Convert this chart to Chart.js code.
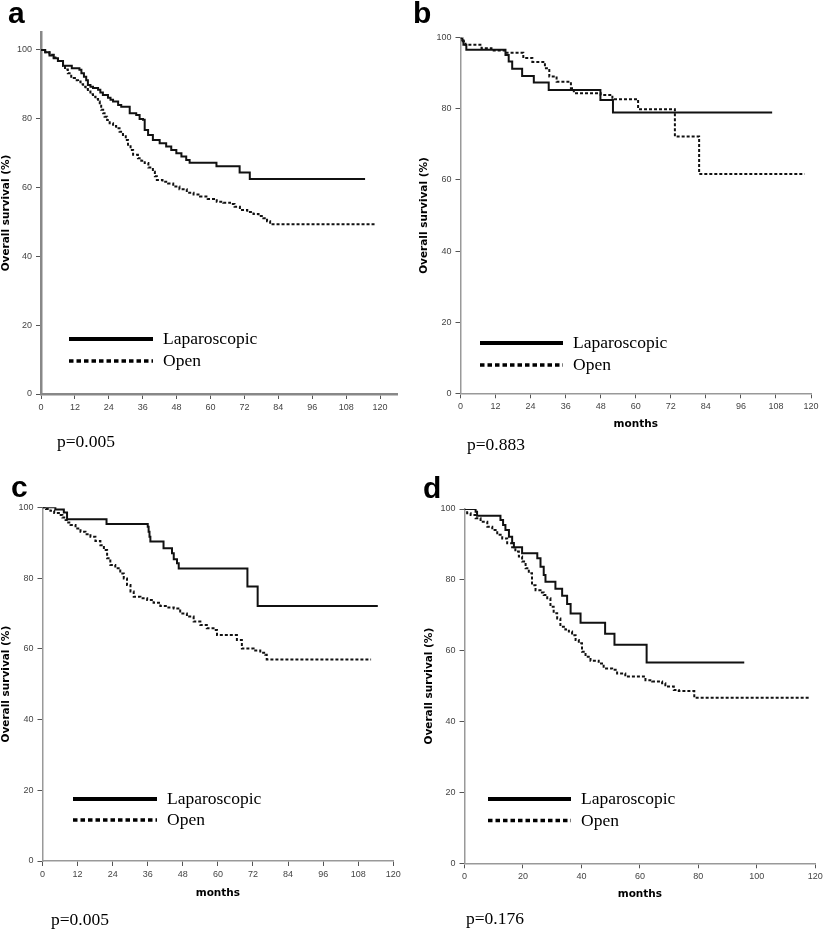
<!DOCTYPE html>
<html><head><meta charset="utf-8">
<script src="https://cdn.jsdelivr.net/npm/chart.js@4.4.1/dist/chart.umd.min.js"></script>
<style>
html,body{margin:0;padding:0;background:#fff;overflow:hidden;width:823px;height:929px;}
canvas{position:absolute;display:block;}
</style></head><body>
<canvas id="pa" width="412" height="465" style="left:0;top:0"></canvas>
<canvas id="pb" width="411" height="465" style="left:412px;top:0"></canvas>
<canvas id="pc" width="412" height="464" style="left:0;top:465px"></canvas>
<canvas id="pd" width="411" height="464" style="left:412px;top:465px"></canvas>
<script>
// ---- data ----
const seriesNames = ['Laparoscopic', 'Open'];
const panelLetters = ['a', 'b', 'c', 'd'];
const pValues = ['p=0.005', 'p=0.883', 'p=0.005', 'p=0.176'];
const yTitle = 'Overall survival (%)';
const xTitle = 'months';
const survivalTicks = [0, 20, 40, 60, 80, 100];
const monthTicks12 = [0, 12, 24, 36, 48, 60, 72, 84, 96, 108, 120];
const monthTicks20 = [0, 20, 40, 60, 80, 100, 120];

// panel a
const aLapT = [0,1.5,3,4.5,6,7.8,10.9,13.6,14.3,15.2,16,16.6,17.5,18.4,20.2,21,21.9,23.7,24.6,25.5,27.3,28.4,31.4,33.7,34.9,36.1,36.7,37.9,39.6,42,44.3,46.1,47.9,49.7,51.4,52.6,62.1,70.3,73.9,114.7];
const aLapS = [100,99.3,98.4,97.6,96.8,95.4,94.7,94.2,93.2,92.2,91.2,89.8,89.3,88.9,88.4,87.6,86.9,86.1,85.5,85.0,84.0,83.5,81.6,81.1,79.9,79.7,76.7,75.3,73.8,72.9,71.9,70.9,70.0,69.0,68.0,67.2,66.2,64.4,62.5,62.5];
const aOpenT = [0,1.5,3,4.5,6,7.8,8.5,9.5,10.7,12,13.1,14,14.9,15.8,16.6,17.5,18.4,19.3,20.2,20.8,21.3,22,22.5,23.4,24.3,25.5,26.6,27.8,29,30,30.8,31.7,32.6,34.3,35.5,36.7,38,39.6,40.3,41,43,45,46.8,49,51.6,54,56.3,59,62.2,64.5,66.9,68.5,70.4,73,75.2,77,78.7,80,81.1,118.2];
const aOpenS = [100,99.3,98.6,97.8,96.8,95.4,94.3,93.2,91.8,91.2,90.8,90,89.3,88.6,87.9,87.1,86.4,85.7,85.0,83.8,82.6,81.6,80.6,79.6,78.7,77.9,77.2,76.2,75.3,73.8,72.4,70.9,69.5,68.5,67.8,67.1,65.8,64.6,63.3,62.2,61.7,61.2,60.3,59.5,58.5,58,57.4,56.7,55.9,55.6,55.2,54.4,53.5,52.9,52.3,51.7,51.1,50.2,49.3,49.3];

// panel b
const bLapT = [0,0.6,1.0,2.0,15.4,16.5,17.7,21.1,25.1,30.2,47.9,52.2,106.7];
const bLapS = [100,99.3,98.0,96.6,95.1,93.3,91.3,89.2,87.4,85.3,82.5,79.0,79.0];
const bOpenT = [0,0.8,1.7,7.2,10.6,15.6,21.5,24.6,28.9,30.4,32.9,37.8,38.8,48.0,52.0,60.8,73.4,81.7,117.8];
const bOpenS = [100,99.0,98.0,97.0,96.4,95.8,94.3,93.2,91.4,89.1,87.6,85.8,84.4,83.9,82.7,79.9,72.2,61.7,61.7];

// panel c
const cLapT = [0,4.4,7.3,8.4,21.9,36.0,36.3,36.6,36.9,41.4,44.3,44.9,46.0,46.6,70.1,73.6,114.7];
const cLapS = [100,99.4,98.5,96.6,95.3,94.5,93.1,91.7,90.3,88.4,87.0,85.3,84.2,82.7,77.6,72.1,72.1];
const cOpenT = [0,1.2,2.7,4,5.6,6.8,7.9,8.8,9.6,11.3,13.0,14.7,16.4,18.1,19.8,21.0,22.1,23.2,24.9,26.6,27.8,28.9,30.1,31.2,33.5,35.8,38.0,40.3,42.6,44.9,47.1,49.4,51.7,54.0,56.2,58.5,59.7,66.5,68.2,72.2,74.5,76.2,76.7,112.4];
const cOpenS = [100,99.5,99.0,98.4,97.8,97.1,96.4,95.7,95.0,94.0,93.1,92.4,91.7,90.5,89.3,87.9,85.6,83.7,82.8,81.3,79.9,78.0,76.2,74.7,74.3,73.8,73.0,72.1,71.7,71.4,70.0,69.1,67.7,66.7,65.8,65.3,63.9,62.5,60.1,59.5,58.9,58.3,57.0,57.0];

// panel d
const dLapT = [0,3.8,4.3,12.3,13.2,14.0,15.2,16.3,16.9,19.7,24.9,26.0,27.1,27.7,31.1,33.4,35.1,36.3,39.7,48.1,51.3,62.3,95.7];
const dLapS = [100,99.2,98.1,96.9,95.5,94.1,92.2,90.4,89.2,87.5,86.1,83.7,81.4,79.5,77.5,75.5,73.2,70.5,67.9,64.8,61.7,56.7,56.7];
const dOpenT = [0,0.9,2.1,3.8,5.5,7.8,9.5,11.2,12.9,14.6,16.3,17.4,18.6,19.7,20.9,22.0,23.1,24.3,26.0,27.1,28.3,29.4,30.5,31.7,32.8,34.5,35.7,36.8,38.0,39.1,40.2,41.4,43.1,45.9,47.6,50.5,52.2,55.0,61.9,64.2,67.6,68.7,71.6,73.3,78.6,118.3];
const dOpenS = [100,98.8,98.3,97.4,96.4,95.0,94.1,92.7,91.7,90.3,89.2,88.0,86.6,85.2,83.3,81.9,78.5,77.1,76.4,75.7,74.8,72.4,70.6,69.1,66.8,66.0,65.4,64.4,63.0,62.1,59.7,58.3,57.2,56.4,55.0,54.6,53.6,52.7,51.7,51.3,50.8,49.9,48.9,48.6,46.7,46.7];

// ---- rendering ----
const tickFamily = '"Liberation Sans", Arial, sans-serif';
const titleFamily = '"DejaVu Sans", Verdana, sans-serif';
const toPts = (t, s) => t.map((x, i) => ({x: x, y: s[i]}));

const decorPlugin = {
  id: 'decor',
  afterDraw(chart, args, o) {
    const ctx = chart.ctx;
    ctx.save();
    ctx.fillStyle = '#000';
    ctx.textAlign = 'left';
    ctx.textBaseline = 'alphabetic';
    ctx.font = 'bold 30px "Liberation Sans", Arial, sans-serif';
    ctx.fillText(o.letter, o.letterX, o.letterY);
    ctx.font = '17.5px "Liberation Serif", "Times New Roman", serif';
    ctx.fillText(o.p, o.pX, o.pY);
    chart.data.datasets.forEach((ds, i) => {
      const y = o.legY[i];
      ctx.beginPath();
      ctx.setLineDash(i === 0 ? [] : [4.5, 3]);
      ctx.lineWidth = i === 0 ? 4 : 3.5;
      ctx.strokeStyle = '#000';
      ctx.moveTo(o.legX1, y);
      ctx.lineTo(o.legX2, y);
      ctx.stroke();
      ctx.setLineDash([]);
      ctx.fillText(ds.label, o.legTextX, y + 5);
    });
    ctx.restore();
  }
};

function makePanel(id, cfg) {
  return new Chart(document.getElementById(id), {
    type: 'line',
    data: {
      datasets: [
        {label: seriesNames[0], data: toPts(cfg.lapT, cfg.lapS), borderColor: '#111', borderWidth: 2,
         stepped: 'before', pointRadius: 0, fill: false},
        {label: seriesNames[1], data: toPts(cfg.openT, cfg.openS), borderColor: '#111', borderWidth: 2,
         borderDash: [3, 2], stepped: 'before', pointRadius: 0, fill: false}
      ]
    },
    options: {
      responsive: false, animation: false, devicePixelRatio: 1,
      layout: {padding: {left: 0, right: cfg.padR, top: cfg.padT, bottom: 0}},
      plugins: {legend: {display: false}, tooltip: {enabled: false}, decor: cfg.decor},
      scales: {
        x: {
          type: 'linear', min: 0, max: cfg.xMax,
          afterBuildTicks: s => { s.ticks = cfg.xTicks.map(v => ({value: v})); },
          afterFit: s => { s.height = cfg.xH; s.paddingLeft = 0; s.paddingRight = 0; },
          grid: {display: true, drawOnChartArea: false, drawTicks: true, tickLength: 5, color: '#555', lineWidth: 1},
          border: {display: true, color: cfg.axisColor, width: cfg.axisWidth},
          ticks: {font: {family: tickFamily, size: 9}, color: '#444', padding: 3, maxRotation: 0, autoSkip: false},
          title: {display: cfg.showMonths, text: xTitle, color: '#000',
                  font: {family: titleFamily, weight: 'bold', size: 10.5}, padding: {top: 0, bottom: cfg.monthsPad}}
        },
        y: {
          type: 'linear', min: 0, max: cfg.yMax,
          afterBuildTicks: s => { s.ticks = survivalTicks.map(v => ({value: v})); },
          afterFit: s => { s.width = cfg.yW; s.paddingTop = 0; s.paddingBottom = 0; },
          grid: {display: true, drawOnChartArea: false, drawTicks: true, tickLength: 5, color: '#555', lineWidth: 1},
          border: {display: true, color: cfg.axisColor, width: cfg.axisWidth},
          ticks: {font: {family: tickFamily, size: 9}, color: '#444', padding: 4, autoSkip: false},
          title: {display: true, text: yTitle, color: '#000',
                  font: {family: titleFamily, weight: 'bold', size: 10.5}, padding: {top: cfg.yTitlePad, bottom: 0}}
        }
      }
    },
    plugins: [decorPlugin]
  });
}

makePanel('pa', {
  lapT: aLapT, lapS: aLapS, openT: aOpenT, openS: aOpenS,
  xMax: 126, yMax: 105.2, xTicks: monthTicks12,
  yW: 41, padR: 15, padT: 32, xH: 71, showMonths: false, monthsPad: 0, yTitlePad: 0,
  axisColor: '#888', axisWidth: 2.5,
  decor: {letter: panelLetters[0], letterX: 8, letterY: 23, p: pValues[0], pX: 57, pY: 447,
          legX1: 69, legX2: 153, legY: [339, 361], legTextX: 163}
});
makePanel('pb', {
  lapT: bLapT, lapS: bLapS, openT: bOpenT, openS: bOpenS,
  xMax: 120, yMax: 100, xTicks: monthTicks12,
  yW: 48.5, padR: 12, padT: 37.7, xH: 71.7, showMonths: true, monthsPad: 34.7, yTitlePad: 5.7,
  axisColor: '#999', axisWidth: 1.5,
  decor: {letter: panelLetters[1], letterX: 1, letterY: 23, p: pValues[1], pX: 55, pY: 450,
          legX1: 68, legX2: 151, legY: [343, 365], legTextX: 161}
});
makePanel('pc', {
  lapT: cLapT, lapS: cLapS, openT: cOpenT, openS: cOpenS,
  xMax: 120, yMax: 100, xTicks: monthTicks12,
  yW: 42.5, padR: 18.7, padT: 42.3, xH: 68, showMonths: true, monthsPad: 29.7, yTitlePad: 0.4,
  axisColor: '#999', axisWidth: 1.5,
  decor: {letter: panelLetters[2], letterX: 11, letterY: 32, p: pValues[2], pX: 51, pY: 460,
          legX1: 73, legX2: 157, legY: [334, 355], legTextX: 167}
});
makePanel('pd', {
  lapT: dLapT, lapS: dLapS, openT: dOpenT, openS: dOpenS,
  xMax: 120, yMax: 100, xTicks: monthTicks20,
  yW: 52.5, padR: 7.7, padT: 44, xH: 65.7, showMonths: true, monthsPad: 28.2, yTitlePad: 10.7,
  axisColor: '#999', axisWidth: 1.5,
  decor: {letter: panelLetters[3], letterX: 11, letterY: 33, p: pValues[3], pX: 54, pY: 459,
          legX1: 76, legX2: 159, legY: [334, 355.5], legTextX: 169}
});
</script>
</body></html>
